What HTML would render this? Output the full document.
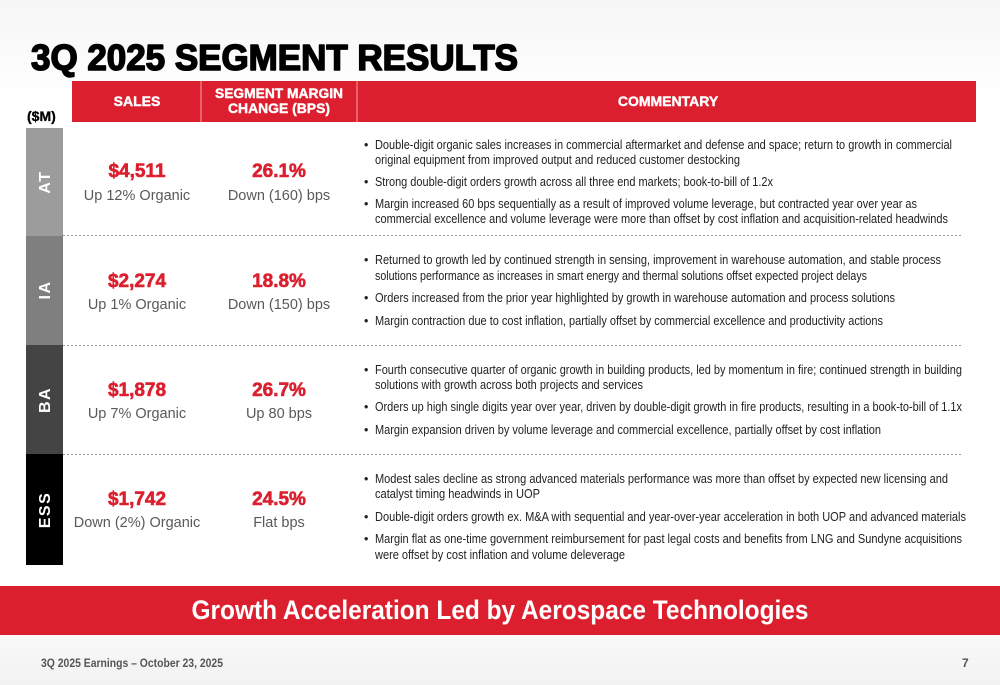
<!DOCTYPE html>
<html><head><meta charset="utf-8"><style>
html,body{margin:0;padding:0;background:#fff}
svg{display:block;font-family:"Liberation Sans",Arial,sans-serif}
</style></head><body>
<svg width="1000" height="685" viewBox="0 0 1000 685" xmlns="http://www.w3.org/2000/svg">
<defs>
<linearGradient id="bg" x1="0" y1="0" x2="0" y2="1">
<stop offset="0" stop-color="#f6f6f6"/><stop offset="0.15" stop-color="#ffffff"/><stop offset="0.85" stop-color="#ffffff"/><stop offset="1" stop-color="#f2f2f2"/>
</linearGradient>
</defs>
<rect x="0" y="0" width="1000" height="685" fill="url(#bg)"/>

<text x="31" y="70" font-size="36" font-weight="bold" fill="#000" stroke="#000" stroke-width="1.6" stroke-linejoin="round" textLength="487" lengthAdjust="spacingAndGlyphs">3Q 2025 SEGMENT RESULTS</text>

<g>
<rect x="72" y="81" width="904" height="41" fill="#dc1f2e"/>
<line x1="201" y1="81" x2="201" y2="122" stroke="#f4a0a6" stroke-width="1"/>
<line x1="357" y1="81" x2="357" y2="122" stroke="#f4a0a6" stroke-width="1"/>
<g font-size="14" font-weight="bold" fill="#fff" stroke="#fff" stroke-width="0.4" text-anchor="middle">
<text x="137" y="106">SALES</text>
<text x="279" y="98" textLength="128" lengthAdjust="spacingAndGlyphs">SEGMENT MARGIN</text>
<text x="279" y="113" textLength="102" lengthAdjust="spacingAndGlyphs">CHANGE (BPS)</text>
<text x="668" y="106">COMMENTARY</text>
</g>
</g>
<text x="27" y="121" font-size="14" font-weight="bold" fill="#000" stroke="#000" stroke-width="0.3">($M)</text>

<rect x="26" y="128" width="37" height="108" fill="#9c9c9c"/>
<rect x="26" y="236" width="37" height="109" fill="#7f7f7f"/>
<rect x="26" y="345" width="37" height="109" fill="#444444"/>
<rect x="26" y="454" width="37" height="111" fill="#000000"/>
<g font-size="16" font-weight="bold" fill="#fff" text-anchor="middle" letter-spacing="1.5">
<text transform="translate(50,182) rotate(-90)">AT</text>
<text transform="translate(50,290) rotate(-90)">IA</text>
<text transform="translate(50,400) rotate(-90)">BA</text>
<text transform="translate(50,510) rotate(-90)">ESS</text>
</g>

<g stroke="#999" stroke-width="1" stroke-dasharray="2,2">
<line x1="63" y1="235.5" x2="962" y2="235.5"/>
<line x1="63" y1="345.5" x2="962" y2="345.5"/>
<line x1="63" y1="454.5" x2="962" y2="454.5"/>
</g>

<g text-anchor="middle">
<g font-size="19" font-weight="bold" fill="#dc1f2e" stroke="#dc1f2e" stroke-width="0.6">
<text x="137" y="177">$4,511</text>
<text x="279" y="177">26.1%</text>
<text x="137" y="287">$2,274</text>
<text x="279" y="287">18.8%</text>
<text x="137" y="396">$1,878</text>
<text x="279" y="396">26.7%</text>
<text x="137" y="505">$1,742</text>
<text x="279" y="505">24.5%</text>
</g>
<g font-size="14.5" fill="#595959">
<text x="137" y="200">Up 12% Organic</text>
<text x="279" y="200">Down (160) bps</text>
<text x="137" y="309">Up 1% Organic</text>
<text x="279" y="309">Down (150) bps</text>
<text x="137" y="418">Up 7% Organic</text>
<text x="279" y="418">Up 80 bps</text>
<text x="137" y="527">Down (2%) Organic</text>
<text x="279" y="527">Flat bps</text>
</g>
</g>

<g font-size="12.5" fill="#222">
<g>
<text x="364" y="149">•</text><text x="375" y="149" textLength="577" lengthAdjust="spacingAndGlyphs">Double-digit organic sales increases in commercial aftermarket and defense and space; return to growth in commercial</text>
<text x="375" y="164" textLength="365" lengthAdjust="spacingAndGlyphs">original equipment from improved output and reduced customer destocking</text>
<text x="364" y="186">•</text><text x="375" y="186" textLength="398" lengthAdjust="spacingAndGlyphs">Strong double-digit orders growth across all three end markets; book-to-bill of 1.2x</text>
<text x="364" y="208">•</text><text x="375" y="208" textLength="542" lengthAdjust="spacingAndGlyphs">Margin increased 60 bps sequentially as a result of improved volume leverage, but contracted year over year as</text>
<text x="375" y="223" textLength="573" lengthAdjust="spacingAndGlyphs">commercial excellence and volume leverage were more than offset by cost inflation and acquisition-related headwinds</text>
</g>
<g>
<text x="364" y="264">•</text><text x="375" y="264" textLength="566" lengthAdjust="spacingAndGlyphs">Returned to growth led by continued strength in sensing, improvement in warehouse automation, and stable process</text>
<text x="375" y="280" textLength="492" lengthAdjust="spacingAndGlyphs">solutions performance as increases in smart energy and thermal solutions offset expected project delays</text>
<text x="364" y="302">•</text><text x="375" y="302" textLength="520" lengthAdjust="spacingAndGlyphs">Orders increased from the prior year highlighted by growth in warehouse automation and process solutions</text>
<text x="364" y="325">•</text><text x="375" y="325" textLength="508" lengthAdjust="spacingAndGlyphs">Margin contraction due to cost inflation, partially offset by commercial excellence and productivity actions</text>
</g>
<g>
<text x="364" y="374">•</text><text x="375" y="374" textLength="587" lengthAdjust="spacingAndGlyphs">Fourth consecutive quarter of organic growth in building products, led by momentum in fire; continued strength in building</text>
<text x="375" y="389" textLength="268" lengthAdjust="spacingAndGlyphs">solutions with growth across both projects and services</text>
<text x="364" y="411">•</text><text x="375" y="411" textLength="587" lengthAdjust="spacingAndGlyphs">Orders up high single digits year over year, driven by double-digit growth in fire products, resulting in a book-to-bill of 1.1x</text>
<text x="364" y="434">•</text><text x="375" y="434" textLength="506" lengthAdjust="spacingAndGlyphs">Margin expansion driven by volume leverage and commercial excellence, partially offset by cost inflation</text>
</g>
<g>
<text x="364" y="483">•</text><text x="375" y="483" textLength="573" lengthAdjust="spacingAndGlyphs">Modest sales decline as strong advanced materials performance was more than offset by expected new licensing and</text>
<text x="375" y="498" textLength="165" lengthAdjust="spacingAndGlyphs">catalyst timing headwinds in UOP</text>
<text x="364" y="521">•</text><text x="375" y="521" textLength="591" lengthAdjust="spacingAndGlyphs">Double-digit orders growth ex. M&amp;A with sequential and year-over-year acceleration in both UOP and advanced materials</text>
<text x="364" y="543">•</text><text x="375" y="543" textLength="587" lengthAdjust="spacingAndGlyphs">Margin flat as one-time government reimbursement for past legal costs and benefits from LNG and Sundyne acquisitions</text>
<text x="375" y="559" textLength="250" lengthAdjust="spacingAndGlyphs">were offset by cost inflation and volume deleverage</text>
</g>
</g>

<rect x="0" y="586" width="1000" height="49" fill="#dc1f2e"/>
<text x="500" y="619" font-size="27" font-weight="bold" fill="#fff" text-anchor="middle" textLength="617" lengthAdjust="spacingAndGlyphs">Growth Acceleration Led by Aerospace Technologies</text>

<text x="41" y="667" font-size="12" font-weight="bold" fill="#555" textLength="182" lengthAdjust="spacingAndGlyphs">3Q 2025 Earnings – October 23, 2025</text>
<text x="962" y="667" font-size="12" font-weight="bold" fill="#555">7</text>
</svg>
</body></html>
